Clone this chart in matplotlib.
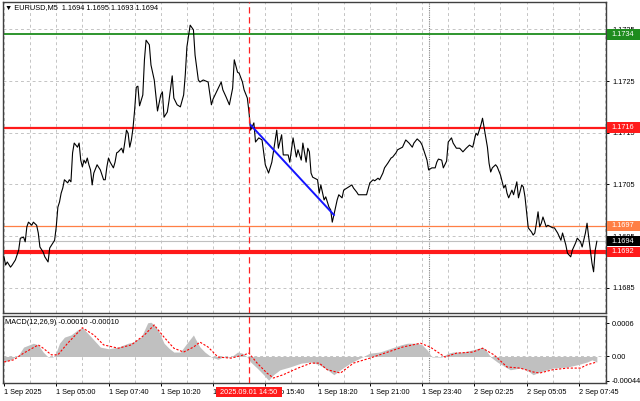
"""
EURUSD M5 chart with MACD sub-window (MetaTrader style)
"""

import matplotlib
matplotlib.use("Agg")
import matplotlib.pyplot as plt
from matplotlib.patches import Rectangle
from matplotlib.transforms import blended_transform_factory

plt.rcParams["font.family"] = ["Liberation Sans", "DejaVu Sans"]
FS = 5.3

# ---- price data (bar index, close) ----
bars = [0, 1, 2, 4, 5, 7, 9, 10, 12, 13, 14, 15, 17, 18, 20, 21, 22, 24, 25, 27,
        28, 30, 31, 32, 33, 34, 35, 36, 37, 39, 40, 41, 42, 43, 45, 46, 47, 48, 49, 50,
        51, 52, 53, 54, 55, 57, 59, 61, 62, 63, 64, 65, 67, 68, 69, 70, 72, 73, 74, 75,
        76, 77, 78, 79, 80, 81, 82, 83, 85, 86, 87, 89, 90, 92, 94, 96, 97, 98, 100, 101,
        103, 104, 106, 108, 110, 111, 112, 114, 116, 117, 119, 120, 122, 125, 127, 128, 131, 133, 134, 136,
        138, 140, 141, 143, 144, 146, 147, 149, 150, 151, 153, 154, 156, 158, 160, 162, 164, 167, 168, 170,
        171, 174, 175, 177, 179, 180, 182, 183, 185, 186, 187, 188, 189, 192, 193, 194, 196, 197, 199, 200,
        201, 202, 204, 205, 207, 208, 210, 211, 213, 214, 216, 217, 222, 224, 226, 227, 229, 230, 232, 233,
        235, 237, 238, 240, 241, 244, 246, 248, 250, 251, 253, 255, 256, 258, 259, 260, 262, 264, 265, 266,
        268, 269, 271, 272, 274, 275, 277, 279, 281, 283, 285, 287, 288, 289, 290, 292, 293, 294, 296, 297,
        298, 299, 301, 302, 304, 306, 307, 308, 309, 311, 312, 314, 315, 317, 318, 319, 320, 321, 323, 324,
        325, 326, 327, 328, 329, 330, 332, 333, 336, 337, 339, 341, 342, 344, 345, 347, 348, 350, 351, 353,
        354, 356, 357, 358, 359, 360, 361, 362, 363]
prices = [1.16910, 1.16894, 1.16900, 1.16890, 1.16894, 1.16904, 1.16923, 1.16946, 1.16948, 1.16939,
          1.16968, 1.16977, 1.16971, 1.16977, 1.16971, 1.16956, 1.16929, 1.16919, 1.16910, 1.16900,
          1.16927, 1.16937, 1.16942, 1.16968, 1.17006, 1.17016, 1.17033, 1.17043, 1.17059, 1.17053,
          1.17059, 1.17055, 1.17111, 1.17130, 1.17122, 1.17130, 1.17097, 1.17084, 1.17097, 1.17091,
          1.17101, 1.17088, 1.17078, 1.17049, 1.17072, 1.17088, 1.17078, 1.17059, 1.17059, 1.17084,
          1.17101, 1.17093, 1.17082, 1.17093, 1.17111, 1.17113, 1.17120, 1.17111, 1.17132, 1.17155,
          1.17149, 1.17122, 1.17136, 1.17159, 1.17194, 1.17238, 1.17240, 1.17202, 1.17223, 1.17291,
          1.17329, 1.17320, 1.17281, 1.17252, 1.17192, 1.17223, 1.17229, 1.17180, 1.17190, 1.17211,
          1.17260, 1.17217, 1.17204, 1.17200, 1.17223, 1.17262, 1.17316, 1.17358, 1.17349, 1.17300,
          1.17252, 1.17248, 1.17252, 1.17248, 1.17204, 1.17215, 1.17235, 1.17248, 1.17233, 1.17219,
          1.17204, 1.17236, 1.17291, 1.17267, 1.17265, 1.17248, 1.17233, 1.17217, 1.17190, 1.17155,
          1.17169, 1.17132, 1.17140, 1.17136, 1.17088, 1.17072, 1.17093, 1.17155, 1.17120, 1.17146,
          1.17107, 1.17107, 1.17093, 1.17140, 1.17103, 1.17117, 1.17097, 1.17130, 1.17093, 1.17120,
          1.17113, 1.17072, 1.17064, 1.17059, 1.17033, 1.17049, 1.17020, 1.17026, 1.17006, 1.17001,
          1.16977, 1.16991, 1.17020, 1.17030, 1.17024, 1.17039, 1.17043, 1.17045, 1.17049, 1.17043,
          1.17035, 1.17030, 1.17030, 1.17053, 1.17059, 1.17057, 1.17062, 1.17059, 1.17072, 1.17082,
          1.17091, 1.17101, 1.17103, 1.17111, 1.17117, 1.17122, 1.17136, 1.17130, 1.17122, 1.17130,
          1.17138, 1.17132, 1.17126, 1.17107, 1.17097, 1.17078, 1.17082, 1.17082, 1.17093, 1.17099,
          1.17097, 1.17082, 1.17095, 1.17132, 1.17140, 1.17130, 1.17120, 1.17120, 1.17113, 1.17120,
          1.17126, 1.17122, 1.17136, 1.17149, 1.17145, 1.17165, 1.17178, 1.17159, 1.17122, 1.17091,
          1.17074, 1.17082, 1.17088, 1.17084, 1.17068, 1.17043, 1.17049, 1.17033, 1.17024, 1.17039,
          1.17030, 1.17055, 1.17024, 1.17049, 1.17045, 1.17026, 1.16995, 1.16966, 1.16958, 1.16952,
          1.16956, 1.16975, 1.16997, 1.16968, 1.16975, 1.16987, 1.16968, 1.16971, 1.16966, 1.16966,
          1.16956, 1.16942, 1.16956, 1.16933, 1.16917, 1.16910, 1.16923, 1.16937, 1.16946, 1.16939,
          1.16929, 1.16956, 1.16975, 1.16948, 1.16923, 1.16898, 1.16881, 1.16923, 1.16940]

# ---- MACD main (histogram) and signal ----
hist_bars = [0, 4, 9, 12, 18, 21, 24, 27, 30, 32, 34, 37, 41, 45, 48, 51, 55, 59, 64, 70,
             76, 79, 84, 88, 90, 92, 95, 98, 101, 104, 108, 112, 116, 117, 120, 123, 127, 131, 134, 139,
             143, 146, 149, 151, 155, 159, 162, 165, 169, 175, 182, 188, 193, 198, 202, 206, 212, 218, 224, 230,
             237, 243, 247, 253, 256, 259, 262, 268, 272, 275, 281, 287, 293, 295, 298, 302, 307, 310, 316, 320,
             324, 328, 336, 345, 351, 357, 360, 363]
hist_vals = [-0.00010, -0.00006, 0.00003, 0.00017, 0.00024, 0.00021, 0.00008, -0.00001, -0.00001, 0.00008,
             0.00024, 0.00035, 0.00039, 0.00048, 0.00052, 0.00043, 0.00030, 0.00017, 0.00014, 0.00017,
             0.00024, 0.00026, 0.00035, 0.00061, 0.00062, 0.00057, 0.00044, 0.00024, 0.00015, 0.00008,
             0.00008, 0.00024, 0.00039, 0.00033, 0.00017, 0.00008, -0.00001, -0.00005, -0.00001, -0.00001,
             0.00008, 0.00006, -0.00001, -0.00010, -0.00021, -0.00033, -0.00043, -0.00033, -0.00024, -0.00019,
             -0.00012, -0.00010, -0.00015, -0.00024, -0.00033, -0.00024, -0.00012, -0.00003, 0.00006, 0.00008,
             0.00015, 0.00021, 0.00024, 0.00024, 0.00021, 0.00012, -0.00001, -0.00001, 0.00006, 0.00008,
             0.00008, 0.00012, 0.00017, 0.00012, -0.00001, -0.00010, -0.00019, -0.00024, -0.00021, -0.00024,
             -0.00033, -0.00028, -0.00021, -0.00019, -0.00015, -0.00010, -0.00006, -0.00010]
sig_bars = [0, 6, 12, 21, 24, 29, 33, 39, 48, 55, 61, 70, 78, 86, 92, 98, 104, 110, 116, 120,
            125, 131, 139, 147, 150, 155, 161, 165, 171, 180, 188, 193, 198, 206, 214, 224, 235, 244, 255, 261,
            270, 277, 287, 293, 300, 308, 316, 324, 328, 336, 345, 353, 357, 363]
sig_vals = [-0.00010, -0.00006, 0.00006, 0.00021, 0.00015, 0.00003, 0.00003, 0.00024, 0.00052, 0.00039,
            0.00021, 0.00015, 0.00021, 0.00039, 0.00057, 0.00035, 0.00015, 0.00008, 0.00017, 0.00026,
            0.00017, -0.00001, -0.00003, 0.00003, 0.00006, -0.00012, -0.00030, -0.00039, -0.00033, -0.00021,
            -0.00012, -0.00012, -0.00024, -0.00030, -0.00012, -0.00003, 0.00008, 0.00017, 0.00024, 0.00017,
            -0.00001, 0.00006, 0.00008, 0.00015, 0.00003, -0.00019, -0.00021, -0.00028, -0.00030, -0.00024,
            -0.00021, -0.00021, -0.00015, -0.00010]

# ---- levels, trend line, markers ----
level_prices = [1.1734, 1.1716, 1.1697, 1.1692]
level_colors = ["#1e8c1e", "#ff1a1a", "#ff7f45", "#ff1a1a"]
level_widths = [1.3, 1.6, 0.9, 3.0]
bid_price = 1.1694
trend_bars = [151, 202]
trend_prices = [1.17165, 1.16991]
event_bar = 150
event_label = "2025.09.01 14:50"
day_sep_bar = 260

time_ticks = [0, 32, 64, 96, 128, 160, 192, 224, 256, 288, 320, 352]
time_labels = ["1 Sep 2025", "1 Sep 05:00", "1 Sep 07:40", "1 Sep 10:20", "1 Sep 13:00",
               "1 Sep 15:40", "1 Sep 18:20", "1 Sep 21:00", "1 Sep 23:40", "2 Sep 02:25",
               "2 Sep 05:05", "2 Sep 07:45"]
price_ticks = [1.1685, 1.1695, 1.1705, 1.1715, 1.1725, 1.1735]
macd_ticks = [-0.00044, 0.0, 0.0006]
macd_tick_labels = ["-0.00044", "0.00", "0.0006"]

GRID = "#c4c4c4"
FRAME = "#404040"

fig = plt.figure(figsize=(6.4, 4.01), dpi=100)
ax = fig.add_axes([3 / 640, 1 - 313 / 401, 603 / 640, 311 / 401])
ax2 = fig.add_axes([3 / 640, 1 - 383 / 401, 603 / 640, 67 / 401])

xmin, xmax = -0.6, 368.6
for a in (ax, ax2):
    a.set_xlim(xmin, xmax)
    for s in a.spines.values():
        s.set_color(FRAME)
        s.set_linewidth(1.0)
    a.yaxis.tick_right()
    a.tick_params(axis="y", length=2.2, width=0.7, pad=2.2, labelsize=FS, colors="black")
    a.set_xticks(range(16, 369, 32), minor=True)
    a.grid(axis="x", which="both", color=GRID, linestyle=(0, (3, 3)), linewidth=0.7)
    a.set_axisbelow(True)

# main price window
ax.set_ylim(1.168013, 1.174028)
ax.set_yticks(price_ticks)
ax.set_yticklabels([f"{p:.4f}" for p in price_ticks])
ax.set_xticks(time_ticks)
ax.tick_params(axis="x", which="both", length=0, labelbottom=False)
ax.grid(axis="y", color=GRID, linestyle=(0, (3, 3)), linewidth=0.7)

ax.axhline(bid_price, color="#c0c0c0", lw=0.8, zorder=2)
for p, c, w in zip(level_prices, level_colors, level_widths):
    ax.axhline(p, color=c, lw=w, zorder=2)
ax.plot(bars, prices, color="black", lw=0.8, zorder=3)
ax.plot(trend_bars, trend_prices, color="#1414ff", lw=1.4, zorder=4)

# right-hand price boxes
ytr = ax.get_yaxis_transform()
box_h = 0.000195
for p, c in [(1.1734, "#1e8c1e"), (1.1716, "#ff1a1a"), (1.1697, "#ff7f45"),
             (bid_price, "black"), (1.1692, "#ff1a1a")]:
    ax.add_patch(Rectangle((1.0015, p - box_h / 2), 0.06, box_h, transform=ytr,
                           clip_on=False, fc=c, ec="none", zorder=5))
    ax.text(1.0095, p, f"{p:.4f}", transform=ytr, ha="left", va="center",
            fontsize=FS, color="white", zorder=6)

ax.text(0.004, 0.983, "\u25bc EURUSD,M5  1.1694 1.1695 1.1693 1.1694", transform=ax.transAxes,
        ha="left", va="center", fontsize=FS, color="black")

# MACD window
ax2.set_ylim(-0.00048, 0.000733)
ax2.set_yticks(macd_ticks)
ax2.set_yticklabels(macd_tick_labels)
ax2.set_xticks(time_ticks)
ax2.set_xticklabels(time_labels, ha="left")
ax2.tick_params(axis="x", which="major", length=2.2, width=0.7, pad=2.0, labelsize=FS)
ax2.tick_params(axis="x", which="minor", length=0)
ax2.axhline(0, color=GRID, linestyle=(0, (3, 3)), lw=0.7, zorder=1)
ax2.fill_between(hist_bars, 0, hist_vals, color="#c0c0c0", lw=0, zorder=2)
ax2.plot(sig_bars, sig_vals, color="#ff0000", lw=0.8, linestyle=(0, (2, 1.5)), zorder=3)
ax2.text(0.004, 0.9, "MACD(12,26,9) -0.00010 -0.00010", transform=ax2.transAxes,
         ha="left", va="center", fontsize=FS, color="black")

# event marker and day separator span both windows
for a in (ax, ax2):
    a.axvline(event_bar, color="#ff2020", lw=0.9, linestyle=(0, (5, 3)), zorder=4)
    a.axvline(day_sep_bar, color="#808080", lw=0.8, linestyle=(0, (1, 1)), zorder=1)

xtr = blended_transform_factory(ax2.transData, ax2.transAxes)
ax2.add_patch(Rectangle((event_bar - 20.2, -0.215), 40.4, 0.155, transform=xtr,
                        clip_on=False, fc="#ff1a1a", ec="none", zorder=5))
ax2.text(event_bar, -0.137, event_label, transform=xtr, ha="center", va="center",
         fontsize=FS, color="white", zorder=6)

fig.savefig("out.png", dpi=100)
